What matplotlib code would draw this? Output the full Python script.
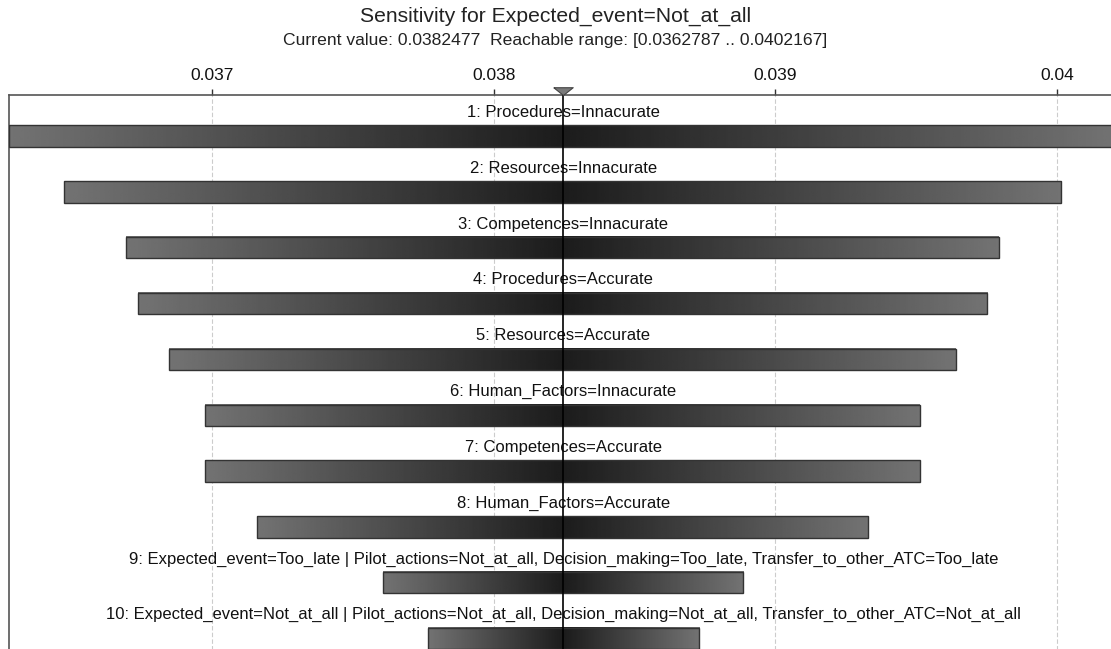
import numpy as np
import matplotlib.pyplot as plt
from matplotlib.patches import Rectangle

plt.rcParams['font.family'] = ['Liberation Sans', 'DejaVu Sans']

# sensitivity ranges
labels = [
    "1: Procedures=Innacurate",
    "2: Resources=Innacurate",
    "3: Competences=Innacurate",
    "4: Procedures=Accurate",
    "5: Resources=Accurate",
    "6: Human_Factors=Innacurate",
    "7: Competences=Accurate",
    "8: Human_Factors=Accurate",
    "9: Expected_event=Too_late | Pilot_actions=Not_at_all, Decision_making=Too_late, Transfer_to_other_ATC=Too_late",
    "10: Expected_event=Not_at_all | Pilot_actions=Not_at_all, Decision_making=Not_at_all, Transfer_to_other_ATC=Not_at_all",
]
low = [0.0362787, 0.036473, 0.036695, 0.036737, 0.036848, 0.036975, 0.036975, 0.037161, 0.037607, 0.037766]
high = [0.0402167, 0.040016, 0.039794, 0.039754, 0.039642, 0.039514, 0.039514, 0.039329, 0.038887, 0.038730]
current = 0.0382477
reach_min = 0.0362787
reach_max = 0.0402167
ticks = [0.037, 0.038, 0.039, 0.04]

fig = plt.figure(figsize=(11.11, 6.49), dpi=100)
ax = fig.add_axes([0.0081, -0.0786, 0.998, 0.9322])

bar_h = 0.38
for i, (lo, hi) in enumerate(zip(low, high)):
    xs = np.linspace(lo, hi, 400)
    t = np.where(xs < current, (current - xs) / (current - lo), (xs - current) / (hi - current))
    shade = 0.11 + 0.34 * np.clip(t, 0, 1)
    ax.imshow(shade[None, :], extent=[lo, hi, i + bar_h / 2, i - bar_h / 2],
              cmap='gray', vmin=0, vmax=1, aspect='auto', interpolation='bilinear', zorder=2)
    ax.add_patch(Rectangle((lo, i - bar_h / 2), hi - lo, bar_h, fill=False,
                           edgecolor='#333333', lw=1, zorder=3))
    ax.text(current, i - bar_h / 2 - 0.1, labels[i], ha='center', va='bottom',
            fontsize=12, color='#111111', zorder=4)

ax.axvline(current, color='black', lw=1.2, zorder=5)
# flat marker triangle sitting on the top edge
tri = [(-1, 0.8), (1, 0.8), (0, 0), (-1, 0.8)]
ax.plot([current], [1.0], marker=tri, markersize=14, color='#7a7a7a',
        markeredgecolor='#444444', markeredgewidth=0.8,
        transform=ax.get_xaxis_transform(), clip_on=False, zorder=6)

ax.set_xlim(reach_min, reach_max)
ax.set_ylim(10.1, -0.735)
ax.set_xticks(ticks)
ax.set_xticklabels(['0.037', '0.038', '0.039', '0.04'])
ax.xaxis.tick_top()
ax.tick_params(axis='x', length=4, width=1, colors='#333333', labelcolor='#111111',
               labelsize=12.5, pad=5)
ax.set_yticks([])
ax.grid(axis='x', color='#cccccc', linestyle=(0, (4, 2)), lw=0.8, zorder=0)
for s in ax.spines.values():
    s.set_color('#555555')
    s.set_linewidth(1.2)

fig.text(0.5, 1 - 16 / 649, "Sensitivity for Expected_event=Not_at_all",
         ha='center', va='center', fontsize=15.2, color='#222222')
fig.text(0.5, 1 - 41 / 649, "Current value: 0.0382477  Reachable range: [0.0362787 .. 0.0402167]",
         ha='center', va='center', fontsize=12.6, color='#222222')

fig.savefig('out.png', dpi=100)
